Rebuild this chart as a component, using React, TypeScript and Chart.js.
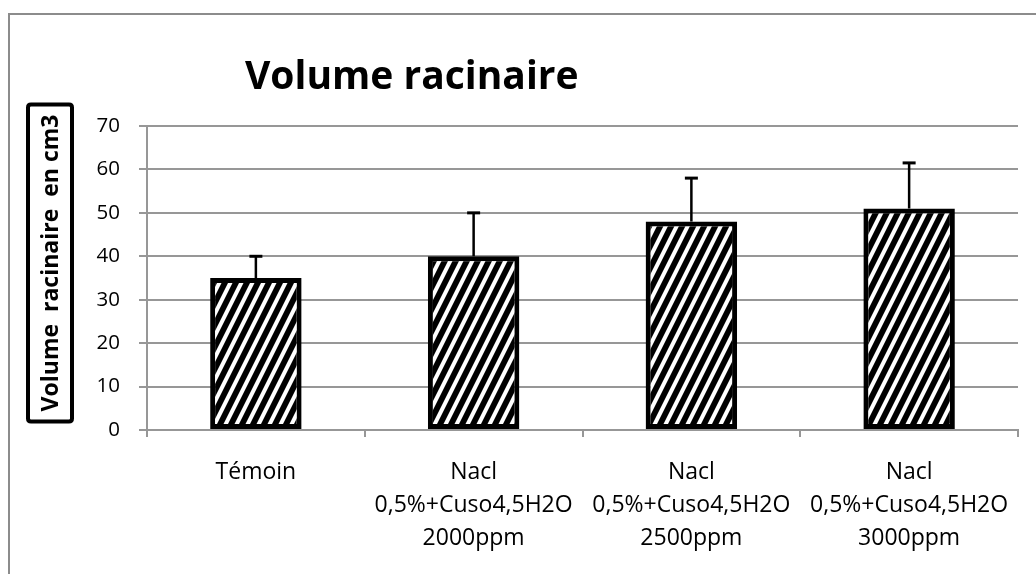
import React, { useEffect, useRef } from "react";
import { Chart, registerables } from "chart.js";

Chart.register(...registerables);

const categories: string[][] = [
  ["Témoin"],
  ["Nacl", "0,5%+Cuso4,5H2O", "2000ppm"],
  ["Nacl", "0,5%+Cuso4,5H2O", "2500ppm"],
  ["Nacl", "0,5%+Cuso4,5H2O", "3000ppm"],
];
const values: number[] = [35, 40, 48, 51];
const errors: number[] = [5, 10, 10, 10.5];
const yMin = 0;
const yMax = 70;
const yStep = 10;
const titleText = "Volume racinaire";
const yTitleText = "Volume  racinaire  en cm3";

function makePattern(): CanvasPattern | string {
  const tile = document.createElement("canvas");
  const w = 11;
  const h = 22;
  tile.width = w;
  tile.height = h;
  const c = tile.getContext("2d");
  if (!c) return "#000";
  c.fillStyle = "#fff";
  c.fillRect(0, 0, w, h);
  c.fillStyle = "#000";
  const band = 6.5;
  for (let x0 = -2 * w; x0 <= w; x0 += w) {
    c.beginPath();
    c.moveTo(x0, h);
    c.lineTo(x0 + band, h);
    c.lineTo(x0 + band + w, 0);
    c.lineTo(x0 + w, 0);
    c.closePath();
    c.fill();
  }
  const p = c.createPattern(tile, "repeat");
  return p || "#000";
}

const errorBarPlugin = {
  id: "errorBars",
  afterDatasetsDraw(chart: any) {
    const meta = chart.getDatasetMeta(0);
    const y = chart.scales.y;
    const ctx = chart.ctx;
    ctx.save();
    ctx.strokeStyle = "#000";
    meta.data.forEach((bar: any, i: number) => {
      const x = bar.x;
      const yTop = y.getPixelForValue(values[i] + errors[i]);
      const yBase = y.getPixelForValue(values[i]);
      ctx.lineWidth = 2.5;
      ctx.beginPath();
      ctx.moveTo(x, yBase);
      ctx.lineTo(x, yTop);
      ctx.stroke();
      ctx.lineWidth = 3;
      ctx.beginPath();
      ctx.moveTo(x - 6.5, yTop);
      ctx.lineTo(x + 6.5, yTop);
      ctx.stroke();
    });
    ctx.restore();
  },
};

const decorPlugin = {
  id: "decor",
  afterDraw(chart: any) {
    const ctx = chart.ctx;
    const area = chart.chartArea;
    ctx.save();
    // main title
    ctx.fillStyle = "#000";
    ctx.font = 'bold 39px "Open Sans"';
    ctx.textAlign = "left";
    ctx.textBaseline = "alphabetic";
    ctx.fillText(titleText, area.left + 98, area.top - 37);
    // y-axis title in a box
    const cx = area.left - 97;
    const cy = (area.top + area.bottom) / 2 - 15;
    ctx.font = 'bold 23px "Open Sans"';
    const tw = ctx.measureText(yTitleText).width;
    const boxH = tw + 20;
    const boxW = 44;
    ctx.lineWidth = 4;
    ctx.strokeStyle = "#000";
    ctx.beginPath();
    const rx = cx - boxW / 2;
    const ry = cy - boxH / 2;
    const r = 3;
    ctx.moveTo(rx + r, ry);
    ctx.lineTo(rx + boxW - r, ry);
    ctx.quadraticCurveTo(rx + boxW, ry, rx + boxW, ry + r);
    ctx.lineTo(rx + boxW, ry + boxH - r);
    ctx.quadraticCurveTo(rx + boxW, ry + boxH, rx + boxW - r, ry + boxH);
    ctx.lineTo(rx + r, ry + boxH);
    ctx.quadraticCurveTo(rx, ry + boxH, rx, ry + boxH - r);
    ctx.lineTo(rx, ry + r);
    ctx.quadraticCurveTo(rx, ry, rx + r, ry);
    ctx.closePath();
    ctx.stroke();
    ctx.translate(cx, cy);
    ctx.rotate(-Math.PI / 2);
    ctx.textAlign = "center";
    ctx.textBaseline = "middle";
    ctx.fillText(yTitleText, 0, 1);
    ctx.restore();
  },
};

export default function App() {
  const canvasRef = useRef<HTMLCanvasElement | null>(null);

  useEffect(() => {
    if (!canvasRef.current) return;
    const gridColor = "#979797";
    const chart = new Chart(canvasRef.current, {
      type: "bar",
      data: {
        labels: categories,
        datasets: [
          {
            data: values,
            backgroundColor: makePattern() as any,
            borderColor: "#000",
            borderWidth: 5,
            borderSkipped: false,
            barPercentage: 0.42,
            categoryPercentage: 1,
          },
        ],
      },
      options: {
        animation: false,
        responsive: true,
        maintainAspectRatio: false,
        layout: { padding: { left: 0, right: 18, top: 126, bottom: 0 } },
        plugins: {
          legend: { display: false },
          title: { display: false },
          tooltip: { enabled: false },
        },
        scales: {
          x: {
            afterFit: (s: any) => {
              s.height = 144;
            },
            grid: {
              display: true,
              drawOnChartArea: false,
              drawTicks: true,
              tickLength: 7,
              color: gridColor,
              lineWidth: 2,
            },
            border: { display: true, color: gridColor, width: 2 },
            ticks: {
              color: "#000",
              font: { family: '"Open Sans"', size: 23, lineHeight: 1.435 },
              padding: 19,
              maxRotation: 0,
              minRotation: 0,
              autoSkip: false,
            },
          },
          y: {
            min: yMin,
            max: yMax,
            afterFit: (s: any) => {
              s.width = 147;
            },
            grid: {
              color: gridColor,
              lineWidth: 2,
              tickLength: 8,
              drawTicks: true,
            },
            border: { display: true, color: gridColor, width: 2 },
            ticks: {
              stepSize: yStep,
              color: "#000",
              font: { family: '"Open Sans"', size: 20.5 },
              padding: 19,
            },
          },
        },
      },
      plugins: [errorBarPlugin, decorPlugin],
    });
    let alive = true;
    if ((document as any).fonts && (document as any).fonts.load) {
      Promise.all([
        (document as any).fonts.load('bold 39px "Open Sans"'),
        (document as any).fonts.load('23px "Open Sans"'),
      ]).then(() => {
        if (alive) chart.update();
      });
    }
    return () => {
      alive = false;
      chart.destroy();
    };
  }, []);

  return (
    <div
      style={{
        position: "fixed",
        left: 0,
        top: 0,
        width: 1036,
        height: 574,
        overflow: "hidden",
        background: "#fff",
      }}
    >
      <div
        style={{
          position: "absolute",
          left: 8,
          top: 13,
          width: 1200,
          height: 800,
          border: "2px solid #8c8c8c",
          boxSizing: "border-box",
        }}
      />
      <canvas
        ref={canvasRef}
        style={{ position: "absolute", left: 0, top: 0 }}
      />
    </div>
  );
}
